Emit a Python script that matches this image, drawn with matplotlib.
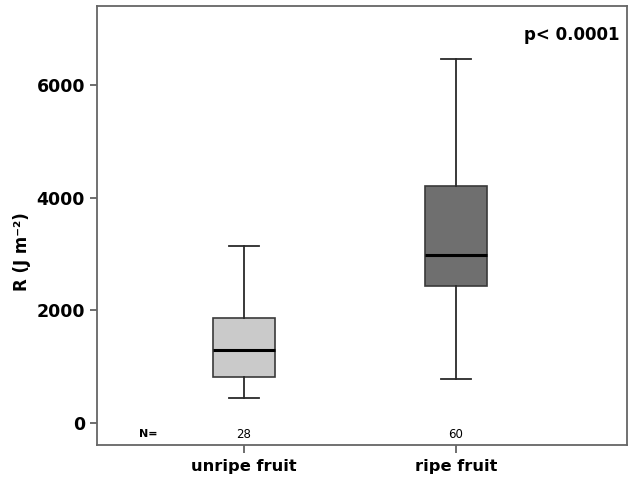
import matplotlib
matplotlib.use('Agg')
import matplotlib.pyplot as plt

groups = ['unripe fruit', 'ripe fruit']
counts = [28, 60]
whislo = [440, 780]
q1 = [815, 2430]
med = [1295, 2980]
q3 = [1865, 4205]
whishi = [3140, 6460]
fills = ['#cacaca', '#6f6f6f']

plt.rcParams['font.family'] = ['DejaVu Sans']

fig = plt.figure(figsize=(6.29, 4.78), dpi=100)
ax = fig.add_axes([0.154, 0.069, 0.843, 0.918])

stats = []
for i in range(len(groups)):
    stats.append({'label': groups[i], 'whislo': whislo[i], 'q1': q1[i], 'med': med[i],
                  'q3': q3[i], 'whishi': whishi[i], 'fliers': []})

pos = [1, 2]
bp = ax.bxp(stats, positions=pos, widths=0.29, capwidths=0.14, patch_artist=True,
            boxprops=dict(edgecolor='#3a3a3a', linewidth=1.2),
            medianprops=dict(color='black', linewidth=2.2),
            whiskerprops=dict(color='#2a2a2a', linewidth=1.3),
            capprops=dict(color='#2a2a2a', linewidth=1.3))
for patch, c in zip(bp['boxes'], fills):
    patch.set_facecolor(c)

ax.set_xlim(0.307, 2.807)
ax.set_ylim(-390, 7400)
ax.set_yticks([0, 2000, 4000, 6000])
ax.set_xticks(pos)
ax.set_xticklabels(groups, fontsize=11.7, fontweight='bold')
ax.tick_params(axis='y', labelsize=12.5, length=5, color='#555555', width=1.2)
ax.tick_params(axis='x', length=6, color='#555555', width=1.2, pad=4)
for lab in ax.get_yticklabels():
    lab.set_fontweight('bold')
for sp in ax.spines.values():
    sp.set_color('#666666')
    sp.set_linewidth(1.3)

ax.set_ylabel('R (J m\u207b\u00b2)', fontsize=12, fontweight='bold')
ax.yaxis.set_label_coords(-0.125, 0.44)

ax.text(0.55, -200, 'N=', fontsize=8, fontweight='bold', ha='center', va='center')
for p, n in zip(pos, counts):
    ax.text(p, -200, str(n), fontsize=8.5, ha='center', va='center')

ax.text(0.985, 0.955, 'p< 0.0001', transform=ax.transAxes, fontsize=12, fontweight='bold',
        ha='right', va='top')

fig.savefig('out.png', dpi=100)
